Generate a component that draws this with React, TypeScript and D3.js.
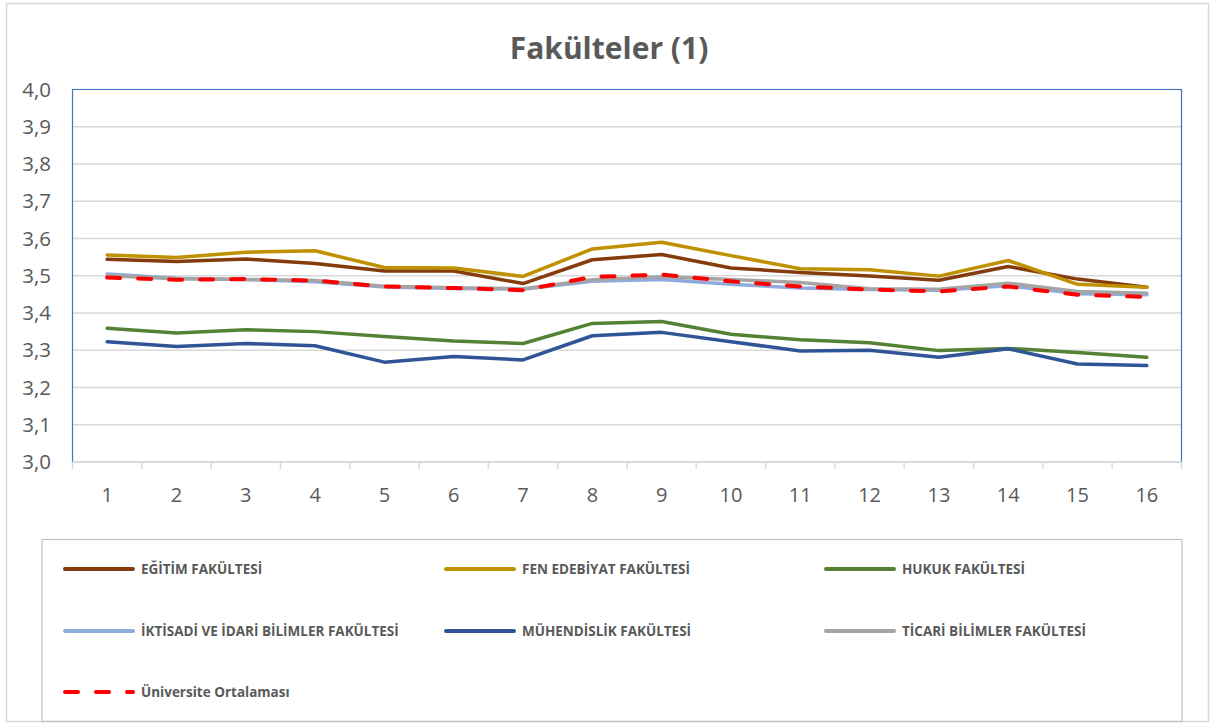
import React from 'react';
import * as d3 from 'd3';

const categories = ['1', '2', '3', '4', '5', '6', '7', '8', '9', '10', '11', '12', '13', '14', '15', '16'];
const yTicks = [3.0, 3.1, 3.2, 3.3, 3.4, 3.5, 3.6, 3.7, 3.8, 3.9, 4.0];

const egitim = [3.544, 3.538, 3.545, 3.533, 3.513, 3.513, 3.479, 3.543, 3.557, 3.521, 3.509, 3.499, 3.488, 3.525, 3.491, 3.469];
const fenEdebiyat = [3.556, 3.549, 3.563, 3.567, 3.522, 3.521, 3.498, 3.572, 3.590, 3.554, 3.519, 3.516, 3.499, 3.541, 3.477, 3.469];
const hukuk = [3.359, 3.346, 3.355, 3.350, 3.337, 3.325, 3.318, 3.372, 3.377, 3.343, 3.328, 3.320, 3.299, 3.305, 3.294, 3.281];
const iktisadi = [3.505, 3.493, 3.490, 3.484, 3.470, 3.466, 3.464, 3.485, 3.490, 3.477, 3.467, 3.463, 3.461, 3.473, 3.452, 3.449];
const muhendislik = [3.323, 3.310, 3.318, 3.312, 3.268, 3.283, 3.274, 3.339, 3.348, 3.323, 3.298, 3.300, 3.281, 3.304, 3.263, 3.259];
const ticari = [3.500, 3.492, 3.490, 3.487, 3.472, 3.468, 3.465, 3.489, 3.497, 3.490, 3.482, 3.465, 3.464, 3.480, 3.458, 3.453];
const ortalama = [3.495, 3.489, 3.491, 3.487, 3.471, 3.467, 3.461, 3.497, 3.503, 3.485, 3.471, 3.463, 3.458, 3.471, 3.449, 3.443];

const series = [
  { name: 'EĞİTİM FAKÜLTESİ', values: egitim, color: '#843C0C', dashed: false },
  { name: 'FEN EDEBİYAT FAKÜLTESİ', values: fenEdebiyat, color: '#BF9000', dashed: false },
  { name: 'HUKUK FAKÜLTESİ', values: hukuk, color: '#548235', dashed: false },
  { name: 'İKTİSADİ VE İDARİ BİLİMLER FAKÜLTESİ', values: iktisadi, color: '#8FAADC', dashed: false },
  { name: 'MÜHENDİSLİK FAKÜLTESİ', values: muhendislik, color: '#2F5597', dashed: false },
  { name: 'TİCARİ BİLİMLER FAKÜLTESİ', values: ticari, color: '#A5A5A5', dashed: false },
  { name: 'Üniversite Ortalaması', values: ortalama, color: '#FF0000', dashed: true },
];

const font = '"Open Sans", "Noto Sans", sans-serif';
const textColor = '#595959';

export default function App() {
  const plot = { left: 72.5, right: 1181.5, top: 89.5, bottom: 462 };

  const x = d3.scaleBand<string>().domain(categories).range([plot.left, plot.right]);
  const y = d3.scaleLinear().domain([3, 4]).range([plot.bottom, plot.top]);
  const cx = (c: string) => (x(c) as number) + x.bandwidth() / 2;

  const line = d3.line<number>()
    .x((_, i) => cx(categories[i]))
    .y(d => y(d));

  const boundaries = categories.map(c => x(c) as number).concat([plot.right]);

  // legend layout: 3 columns, 3 rows
  const legCols = [65, 446, 826];
  const legRows = [569, 631, 692];

  return (
    <svg width={1210} height={727} style={{ position: 'absolute', left: 0, top: 0, background: '#fff' }}>
      <rect x={6.5} y={3.5} width={1202} height={718} fill="#fff" stroke="#D9D9D9" strokeWidth={1.5} />

      <text x={609} y={59} textAnchor="middle" fontFamily={font} fontWeight="bold" fontSize={30} fill={textColor}>
        Fakülteler (1)
      </text>

      {/* gridlines */}
      {yTicks.map(t => (
        <line key={t} x1={plot.left} x2={plot.right} y1={y(t)} y2={y(t)} stroke="#D9D9D9" strokeWidth={1.5} />
      ))}

      {/* plot border */}
      <polyline
        points={`${plot.left},${plot.bottom} ${plot.left},${plot.top} ${plot.right},${plot.top} ${plot.right},${plot.bottom}`}
        fill="none" stroke="#4472C4" strokeWidth={1.2}
      />
      <line x1={plot.left} x2={plot.right} y1={plot.bottom} y2={plot.bottom} stroke="#D9D9D9" strokeWidth={2} />
      {boundaries.map((b, i) => (
        <line key={i} x1={b} x2={b} y1={plot.bottom} y2={plot.bottom + 7} stroke="#D9D9D9" strokeWidth={1.5} />
      ))}

      {/* y labels */}
      {yTicks.map(t => (
        <text key={t} x={51} y={y(t) + 7} textAnchor="end" fontFamily={font} fontSize={20.5} fill={textColor}>
          {d3.format('.1f')(t).replace('.', ',')}
        </text>
      ))}
      {/* x labels */}
      {categories.map(c => (
        <text key={c} x={cx(c)} y={502} textAnchor="middle" fontFamily={font} fontSize={20} fill={textColor}>
          {c}
        </text>
      ))}

      {/* series */}
      {series.map(s => (
        <path
          key={s.name}
          d={line(s.values) as string}
          fill="none"
          stroke={s.color}
          strokeWidth={s.dashed ? 4 : 3.5}
          strokeLinejoin="round"
          strokeLinecap="round"
          strokeDasharray={s.dashed ? '13 18' : undefined}
        />
      ))}

      {/* legend */}
      <rect x={42} y={539.5} width={1140} height={182} fill="none" stroke="#BFBFBF" strokeWidth={1.2} />
      {series.map((s, i) => {
        const lx = legCols[i % 3];
        const ly = legRows[Math.floor(i / 3)];
        return (
          <g key={s.name}>
            <line
              x1={lx} x2={lx + 68} y1={ly} y2={ly}
              stroke={s.color} strokeWidth={4} strokeLinecap="round"
              strokeDasharray={s.dashed ? '13 18' : undefined}
            />
            <text x={lx + 76} y={ly + 5} fontFamily={font} fontWeight="bold" fontSize={13.5} fill={textColor}>
              {s.name}
            </text>
          </g>
        );
      })}
    </svg>
  );
}
